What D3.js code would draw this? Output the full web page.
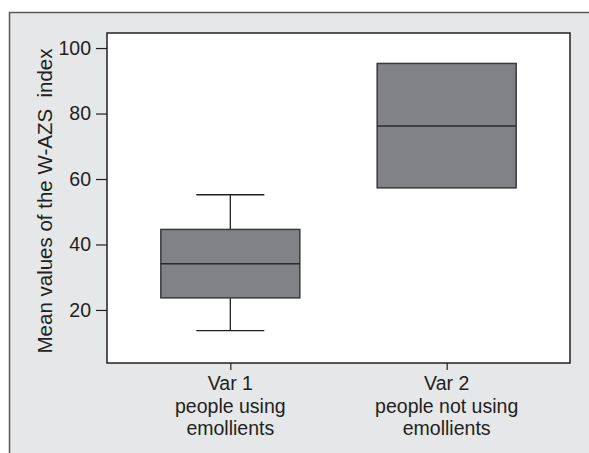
<!DOCTYPE html>
<html><head><meta charset="utf-8">
<script src="https://cdn.jsdelivr.net/npm/d3@7"></script>
<style>body{margin:0;background:#fff}svg{display:block}text{font-family:"Liberation Sans",Arial,sans-serif;fill:#231f20}</style>
</head><body><svg id="c" width="589" height="453"></svg>
<script>
const categories = ["Var 1", "Var 2"];
const subLabels = [["people using", "emollients"], ["people not using", "emollients"]];
const whiskerLow = [13.7, 57.3];
const q1 = [23.7, 57.3];
const median = [34.1, 76.2];
const q3 = [44.6, 95.3];
const whiskerHigh = [55.2, 95.3];
const yTicks = [20, 40, 60, 80, 100];
const yTitle = "Mean values of the W-AZS  index";

const svg = d3.select("#c");
svg.append("rect").attr("x", 9).attr("y", 12).attr("width", 600).attr("height", 460).attr("fill", "#e6e7e8");
svg.append("path").attr("d", "M9.5,453V12.5H589").attr("fill", "none").attr("stroke", "#58595b").attr("stroke-width", 1.5);

const L = 107, R = 570, T = 33, B = 363;
const y = d3.scaleLinear().domain([3.8, 104.6]).range([B, T]);
const x = d3.scalePoint().domain(categories).range([L, R]).padding(0.57);
const boxW = 139, capW = 68;

svg.append("rect").attr("x", L).attr("y", T).attr("width", R - L).attr("height", B - T)
  .attr("fill", "#fff").attr("stroke", "#231f20").attr("stroke-width", 1.5);

const yAxis = svg.append("g").attr("transform", `translate(${L},0)`)
  .call(d3.axisLeft(y).tickValues(yTicks).tickSize(11).tickPadding(5));
yAxis.select(".domain").remove();
yAxis.selectAll(".tick line").attr("stroke", "#231f20").attr("stroke-width", 1.2);
yAxis.selectAll(".tick text").attr("font-size", 19.5).attr("fill", "#231f20").style("font-family", "Liberation Sans, Arial, sans-serif");

const xAxis = svg.append("g").attr("transform", `translate(0,${B})`)
  .call(d3.axisBottom(x).tickSize(7).tickFormat(""));
xAxis.select(".domain").remove();
xAxis.selectAll(".tick line").attr("stroke", "#231f20").attr("stroke-width", 1.2);

categories.forEach((c, i) => {
  const cx = x(c);
  const g = svg.append("g");
  g.append("line").attr("x1", cx).attr("x2", cx).attr("y1", y(whiskerHigh[i])).attr("y2", y(q3[i])).attr("stroke", "#231f20").attr("stroke-width", 1.3);
  g.append("line").attr("x1", cx).attr("x2", cx).attr("y1", y(q1[i])).attr("y2", y(whiskerLow[i])).attr("stroke", "#231f20").attr("stroke-width", 1.3);
  if (whiskerHigh[i] !== q3[i]) g.append("line").attr("x1", cx - capW / 2).attr("x2", cx + capW / 2).attr("y1", y(whiskerHigh[i])).attr("y2", y(whiskerHigh[i])).attr("stroke", "#231f20").attr("stroke-width", 1.3);
  if (whiskerLow[i] !== q1[i]) g.append("line").attr("x1", cx - capW / 2).attr("x2", cx + capW / 2).attr("y1", y(whiskerLow[i])).attr("y2", y(whiskerLow[i])).attr("stroke", "#231f20").attr("stroke-width", 1.3);
  g.append("rect").attr("x", cx - boxW / 2).attr("y", y(q3[i])).attr("width", boxW).attr("height", y(q1[i]) - y(q3[i]))
    .attr("fill", "#808285").attr("stroke", "#3a3a3c").attr("stroke-width", 1.5);
  g.append("line").attr("x1", cx - boxW / 2).attr("x2", cx + boxW / 2).attr("y1", y(median[i])).attr("y2", y(median[i])).attr("stroke", "#2b2b2d").attr("stroke-width", 1.5);
  const lines = [c].concat(subLabels[i]);
  lines.forEach((t, j) => {
    svg.append("text").attr("x", cx).attr("y", 390 + j * 22.5).attr("text-anchor", "middle").attr("font-size", 19.5).text(t);
  });
});

svg.append("text").attr("transform", `translate(52,201) rotate(-90)`).attr("text-anchor", "middle")
  .attr("font-size", 20.5).style("white-space", "pre").text(yTitle);
</script></body></html>
